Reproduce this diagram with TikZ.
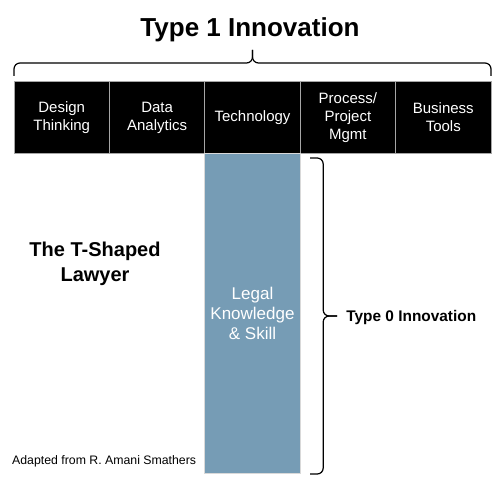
\documentclass[tikz,border=0pt]{standalone}
\usepackage{fontspec}
\setmainfont{Liberation Sans}
\usetikzlibrary{positioning,calc}
\definecolor{legalblue}{RGB}{118,156,181}

\begin{document}
\begin{tikzpicture}[x=1pt,y=1pt,node distance=0pt,
    skill box/.style={fill=black,draw=gray!70,line width=1pt,text=white,inner sep=0pt,outer sep=0pt,
        minimum width=95.4pt,minimum height=71pt,align=center,font=\fontsize{15}{18}\selectfont},
    brace line/.style={line width=1.2pt,rounded corners=6pt}]

    \useasboundingbox (0,0) rectangle (500,483);

    % top bar of the T
    \node[skill box, anchor=north west] (1) at (14,401) {Design\\Thinking};
    \node[skill box] (2) [right=of 1] {Data\\Analytics};
    \node[skill box] (3) [right=of 2] {Technology};
    \node[skill box] (4) [right=of 3] {Process/\\Project\\Mgmt};
    \node[skill box] (5) [right=of 4] {Business\\Tools};

    % stem of the T
    \node[fill=legalblue, draw=gray!30, line width=1pt, text=white, inner sep=0pt, outer sep=0pt,
        minimum width=95.4pt, minimum height=320pt, align=center,
        font=\fontsize{17}{20}\selectfont] (legal) [below=of 3] {Legal\\Knowledge\\\& Skill};

    \node[font=\bfseries\fontsize{26}{30}\selectfont] (type1) at (250,453) {Type 1 Innovation};
    \node[font=\bfseries\fontsize{15.4}{18}\selectfont, anchor=west, inner sep=0pt] (type0) at ([xshift=46pt,yshift=-5pt]legal.east) {Type 0 Innovation};
    \node[font=\bfseries\fontsize{20}{25.6}\selectfont, align=center] (lawyer) at (95,219) {The T-Shaped\\Lawyer};
    \node[font=\fontsize{12.3}{14}\selectfont, anchor=west, inner sep=0pt] (credit) at (12,22) {Adapted from R. Amani Smathers};

    % braces
    \coordinate (tl) at ([yshift=6pt]1.north west);
    \coordinate (tr) at ([yshift=6pt]5.north east);
    \coordinate (ttip) at ($(tl)!0.5!(tr)+(0,26)$);
    \coordinate (tmid) at ($(ttip)+(0,-13)$);
    \draw[brace line] (tl) |- (tmid) -- (ttip);
    \draw[brace line] (tr) |- (tmid) -- (ttip);

    \coordinate (rt) at ([xshift=10pt,yshift=-5pt]legal.north east);
    \coordinate (rb) at ([xshift=10pt,yshift=-1pt]legal.south east);
    \coordinate (rtip) at ($(rt)!0.5!(rb)+(27,0)$);
    \coordinate (rmid) at ($(rtip)+(-14,0)$);
    \draw[brace line] (rt) -| (rmid) -- (rtip);
    \draw[brace line] (rb) -| (rmid) -- (rtip);
\end{tikzpicture}
\end{document}
